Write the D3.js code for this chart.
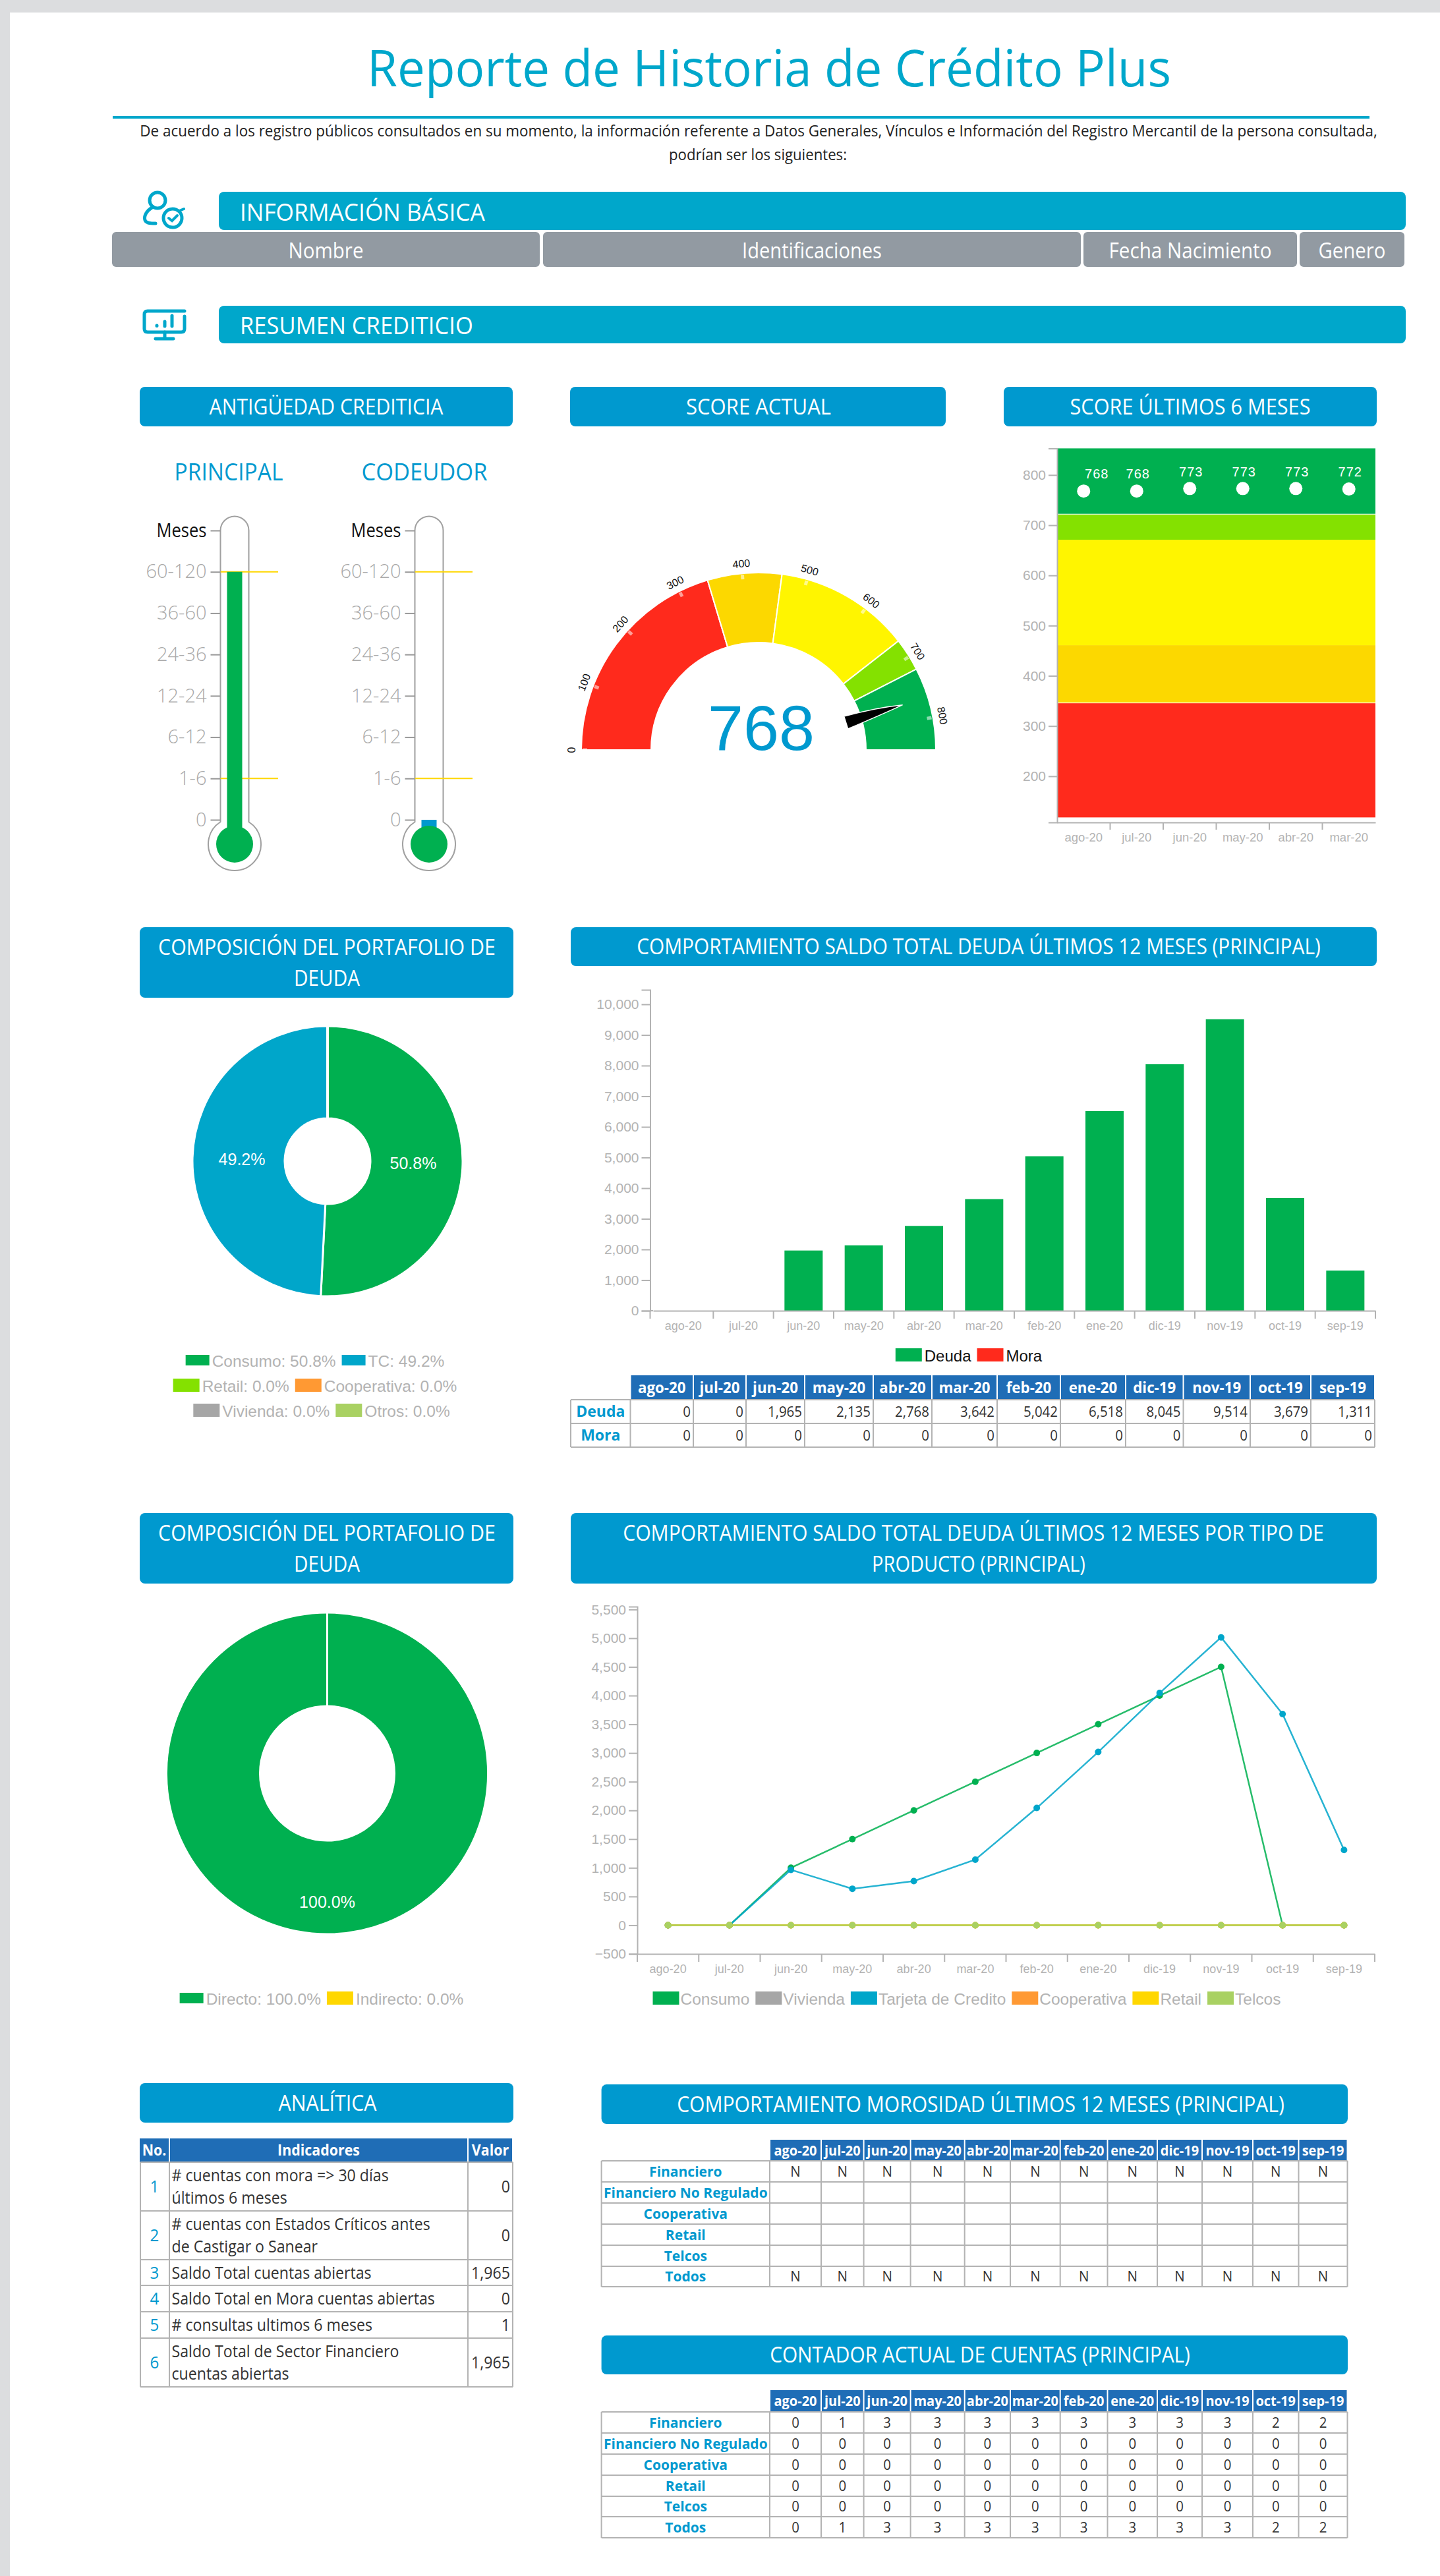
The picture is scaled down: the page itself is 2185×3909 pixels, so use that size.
<!DOCTYPE html>
<html>
<head>
<meta charset="utf-8">
<title>Reporte de Historia de Crédito Plus</title>
<script src="https://cdn.jsdelivr.net/npm/d3@7/dist/d3.min.js"></script>
<style>
  body { margin: 0; background: #fff; }
  svg { display: block; }
</style>
</head>
<body>
<svg id="page" width="2185" height="3909"></svg>
<script>
// Data
const months = ["ago-20", "jul-20", "jun-20", "may-20", "abr-20", "mar-20", "feb-20", "ene-20", "dic-19", "nov-19", "oct-19", "sep-19"];
const sixMonths = months.slice(0, 6);

const thermLabels = ["0", "1-6", "6-12", "12-24", "24-36", "36-60", "60-120", "Meses"];
const thermLimits = ["60-120", "1-6"];
const thermTitles = ["PRINCIPAL", "CODEUDOR"];
const thermValues = ["60-120", "0"];

const score = 768;
const scoreTicks = [0, 100, 200, 300, 400, 500, 600, 700, 800];
const scoreEdges = [0, 346, 461, 671, 722, 850];
const scoreColors = ["#ff2a1c", "#fcd800", "#fff500", "#84e100", "#00b050"];
const scoreHistory = [768, 768, 773, 773, 773, 772];

const portfolioNames = ["Consumo", "TC", "Retail", "Cooperativa", "Vivienda", "Otros"];
const portfolioValues = [50.8, 49.2, 0, 0, 0, 0];
const portfolioColors = ["#00b050", "#00a6ca", "#84e100", "#ff9933", "#a6a6a6", "#a9d162"];

const debtTotal = [0, 0, 1965, 2135, 2768, 3642, 5042, 6518, 8045, 9514, 3679, 1311];
const debtLate = [0, 0, 0, 0, 0, 0, 0, 0, 0, 0, 0, 0];

const directNames = ["Directo", "Indirecto"];
const directValues = [100, 0];
const directColors = ["#00b050", "#ffd700"];

const productNames = ["Consumo", "Vivienda", "Tarjeta de Credito", "Cooperativa", "Retail", "Telcos"];
const productColors = ["#00b050", "#a6a6a6", "#00a6ca", "#ff9933", "#ffd700", "#a9d162"];
const consumoSeries = [0, 0, 1000, 1500, 2000, 2500, 3000, 3500, 4000, 4500, 0, 0];
const viviendaSeries = [0, 0, 0, 0, 0, 0, 0, 0, 0, 0, 0, 0];
const tarjetaSeries = [0, 0, 965, 635, 768, 1142, 2042, 3018, 4045, 5014, 3679, 1311];
const cooperativaSeries = [0, 0, 0, 0, 0, 0, 0, 0, 0, 0, 0, 0];
const retailSeries = [0, 0, 0, 0, 0, 0, 0, 0, 0, 0, 0, 0];
const telcosSeries = [0, 0, 0, 0, 0, 0, 0, 0, 0, 0, 0, 0];

const indicators = [
  ["# cuentas con mora => 30 días", "últimos 6 meses"],
  ["# cuentas con Estados Críticos antes", "de Castigar o Sanear"],
  ["Saldo Total cuentas abiertas"],
  ["Saldo Total en Mora cuentas abiertas"],
  ["# consultas ultimos 6 meses"],
  ["Saldo Total de Sector Financiero", "cuentas abiertas"]
];
const indicatorValues = ["0", "0", "1,965", "0", "1", "1,965"];

const sectors = ["Financiero", "Financiero No Regulado", "Cooperativa", "Retail", "Telcos", "Todos"];
const lateFlags = [
  ["N", "N", "N", "N", "N", "N", "N", "N", "N", "N", "N", "N"],
  ["", "", "", "", "", "", "", "", "", "", "", ""],
  ["", "", "", "", "", "", "", "", "", "", "", ""],
  ["", "", "", "", "", "", "", "", "", "", "", ""],
  ["", "", "", "", "", "", "", "", "", "", "", ""],
  ["N", "N", "N", "N", "N", "N", "N", "N", "N", "N", "N", "N"]
];
const accountCounts = [
  [0, 1, 3, 3, 3, 3, 3, 3, 3, 3, 2, 2],
  [0, 0, 0, 0, 0, 0, 0, 0, 0, 0, 0, 0],
  [0, 0, 0, 0, 0, 0, 0, 0, 0, 0, 0, 0],
  [0, 0, 0, 0, 0, 0, 0, 0, 0, 0, 0, 0],
  [0, 0, 0, 0, 0, 0, 0, 0, 0, 0, 0, 0],
  [0, 1, 3, 3, 3, 3, 3, 3, 3, 3, 2, 2]
];

const blue = "#0099cf";
const teal = "#00a7cb";
const tableBlue = "#1f6db6";
const axisGrey = "#b3b3b3";
const sans = "'Open Sans', sans-serif";
const arial = "'Liberation Sans', Arial, sans-serif";

const svg = d3.select("#page");

// Open Sans runs wider than the report's font, so text gets narrowed with a scale
function label(g, x, y, str, o = {}) {
  const t = g.append("text")
    .attr("dy", o.dy || "0.36em")
    .attr("text-anchor", o.anchor || "middle")
    .attr("font-family", o.family || sans)
    .attr("font-size", o.size || 24)
    .attr("font-weight", o.weight || 400)
    .attr("fill", o.fill || "#333")
    .text(str);
  const natural = t.node().getComputedTextLength();
  let sx = 1;
  if (o.width) sx = o.width / natural;
  else if (o.family !== arial) sx = o.squeeze || 0.93;
  t.attr("transform", `translate(${x},${y}) scale(${sx},1)`);
  return t;
}

function box(g, x0, x1, y0, y1, fill, rx = 0) {
  return g.append("rect")
    .attr("x", x0).attr("y", y0)
    .attr("width", x1 - x0).attr("height", y1 - y0)
    .attr("rx", rx).attr("fill", fill);
}

function header(x0, x1, y0, y1, lines) {
  box(svg, x0, x1, y0, y1, blue, 8);
  const cy = (y0 + y1) / 2;
  lines.forEach((l, i) => {
    const y = lines.length === 1 ? cy : cy + (i - 0.5) * 47;
    label(svg, l[1], y, l[0], { size: 32, fill: "#fff", width: l[2] });
  });
}

function styleAxis(g, size) {
  g.selectAll(".domain, .tick line").attr("stroke", axisGrey).attr("stroke-width", 2);
  g.selectAll("text").attr("font-family", arial).attr("font-size", size).attr("fill", axisGrey);
}

// Centred row of swatch + text pairs
function legendRow(g, cx, y, items, o) {
  const row = g.append("g");
  const gap = o.gap === undefined ? 4 : o.gap;
  let x = 0;
  items.forEach((d) => {
    const sw = d.small ? 36 : 40;
    const sh = d.small ? 16 : 20;
    row.append("rect").attr("x", x).attr("y", y - sh / 2 - 1).attr("width", sw).attr("height", sh).attr("fill", d.color);
    x += sw + gap;
    const t = label(row, x, y, d.text, { anchor: "start", family: arial, size: o.size, fill: o.fill || axisGrey });
    x += t.node().getComputedTextLength() + 9;
  });
  row.attr("transform", `translate(${cx - (x - 9) / 2},0)`);
}

function drawTable(o) {
  const g = svg.append("g");
  const x0 = o.edges[0];
  const end = o.edges[o.edges.length - 1];
  o.months.forEach((m, i) => {
    box(g, o.edges[i + 1] + 1, o.edges[i + 2] - 1, o.headY, o.rows[0], tableBlue);
    label(g, (o.edges[i + 1] + o.edges[i + 2]) / 2, (o.headY + o.rows[0]) / 2, m, { size: o.headSize, weight: 700, fill: "#fff" });
  });
  o.rows.forEach((y) => {
    g.append("line").attr("x1", x0).attr("x2", end).attr("y1", y).attr("y2", y).attr("stroke", axisGrey).attr("stroke-width", 2);
  });
  o.edges.forEach((x) => {
    g.append("line").attr("x1", x).attr("x2", x).attr("y1", o.rows[0]).attr("y2", o.rows[o.rows.length - 1]).attr("stroke", axisGrey).attr("stroke-width", 2);
  });
  o.names.forEach((name, r) => {
    const cy = (o.rows[r] + o.rows[r + 1]) / 2;
    label(g, (x0 + o.edges[1]) / 2, cy, name, { size: o.nameSize, weight: 700, fill: blue, squeeze: 1 });
    o.cells[r].forEach((v, c) => {
      if (v === "") return;
      const a = o.edges[c + 1];
      const b = o.edges[c + 2];
      if (o.right) label(g, b - 4, cy, v, { anchor: "end", size: o.cellSize });
      else label(g, (a + b) / 2, cy, v, { size: o.cellSize });
    });
  });
}

function donut(cx, cy, r0, r1, names, values, colors, labelR) {
  const g = svg.append("g").attr("transform", `translate(${cx},${cy})`);
  const pie = d3.pie().sort(null).value((d) => d)(values);
  const arc = d3.arc().innerRadius(r0).outerRadius(r1);
  g.selectAll("path").data(pie).join("path")
    .attr("d", arc)
    .attr("fill", (d, i) => colors[i])
    .attr("stroke", "#fff")
    .attr("stroke-width", 3);
  const labelArc = d3.arc().innerRadius(labelR).outerRadius(labelR);
  pie.filter((d) => d.value > 0).forEach((d) => {
    const p = labelArc.centroid(d);
    label(g, p[0], p[1], d.value.toFixed(1) + "%", { family: arial, size: 25, fill: "#fff" });
  });
}

// Page frame
box(svg, 0, 2185, 0, 3909, "#dcdddf");
box(svg, 15, 2185, 19, 3909, "#fff");

// Title block
label(svg, 1167, 104, "Reporte de Historia de Crédito Plus", { size: 76, fill: teal, width: 1220 });
box(svg, 171, 2078, 176, 180, teal);
label(svg, 1151, 198, "De acuerdo a los registro públicos consultados en su momento, la información referente a Datos Generales, Vínculos e Información del Registro Mercantil de la persona consultada,", { size: 24, fill: "#222", width: 1878 });
label(svg, 1150, 234, "podrían ser los siguientes:", { size: 24, fill: "#222", width: 270 });

// Section bars
box(svg, 332, 2133, 291, 349, teal, 8);
label(svg, 364, 322, "INFORMACIÓN BÁSICA", { anchor: "start", size: 36, fill: "#fff", width: 372 });
box(svg, 332, 2133, 464, 521, teal, 8);
label(svg, 364, 494, "RESUMEN CREDITICIO", { anchor: "start", size: 36, fill: "#fff", width: 354 });

[[170, 819, "Nombre", 114], [824, 1640, "Identificaciones", 212], [1644, 1968, "Fecha Nacimiento", 247], [1972, 2131, "Genero", 102]].forEach((d) => {
  box(svg, d[0], d[1], 352, 405, "#929aa2", 6);
  label(svg, (d[0] + d[1]) / 2, 380, d[2], { size: 32, fill: "#fff", width: d[3] });
});

// Icons
const iconUser = svg.append("g").attr("fill", "none").attr("stroke", teal).attr("stroke-width", 5).attr("stroke-linecap", "round");
iconUser.append("circle").attr("cx", 239).attr("cy", 304).attr("r", 12);
iconUser.append("path").attr("d", "M232,314 C222,320 218,328 220,334 C221,338 226,339 236,339");
iconUser.append("circle").attr("cx", 262).attr("cy", 331).attr("r", 14);
iconUser.append("path").attr("d", "M256,331 L261,335 L269,327 M272,320 L279,317").attr("stroke-width", 4);
const iconScreen = svg.append("g").attr("fill", "none").attr("stroke", teal).attr("stroke-width", 5).attr("stroke-linecap", "round");
iconScreen.append("path").attr("d", "M280,472 H224 Q219,472 219,477 V499 Q219,504 224,504 H275 Q280,504 280,499 V480");
iconScreen.append("path").attr("d", "M250,504 V513 M236,514 H263");
iconScreen.append("path").attr("d", "M238,494 V494.5 M250,488 V495 M261,479 V495");

header(212, 778, 587, 647, [["ANTIGÜEDAD CREDITICIA", 495, 355]]);
header(865, 1435, 587, 647, [["SCORE ACTUAL", 1151, 220]]);
header(1523, 2089, 587, 647, [["SCORE ÚLTIMOS 6 MESES", 1806, 365]]);

// Thermometers
function thermometer(cx, value, fillColor, title, titleX, titleW) {
  const g = svg.append("g");
  label(g, titleX, 716, title, { size: 37, fill: blue, width: titleW });
  const y = d3.scalePoint().domain(thermLabels).range([1244, 805]);
  const hw = 21.5;
  const R = 40;
  const by = y("0") + 37;
  const a = Math.asin(hw / R);
  const outline = d3.path();
  outline.moveTo(cx - hw, y("Meses"));
  outline.arc(cx, y("Meses"), hw, Math.PI, 0);
  outline.lineTo(cx + hw, by - Math.cos(a) * R);
  outline.arc(cx, by, R, -Math.PI / 2 + a, -Math.PI / 2 - a);
  outline.closePath();
  g.append("path").attr("d", outline.toString()).attr("fill", "#fff").attr("stroke", "#a0a0a0").attr("stroke-width", 2);
  g.selectAll(".limit").data(thermLimits).join("line")
    .attr("x1", cx - hw).attr("x2", cx + 66)
    .attr("y1", (d) => y(d)).attr("y2", (d) => y(d))
    .attr("stroke", "#ffd700").attr("stroke-width", 2);
  g.append("rect")
    .attr("x", cx - 11.5).attr("width", 23)
    .attr("y", y(value)).attr("height", by - y(value))
    .attr("fill", fillColor);
  g.append("circle").attr("cx", cx).attr("cy", by).attr("r", 28).attr("fill", "#00b050");
  const axis = g.append("g")
    .attr("transform", `translate(${cx - hw},0)`)
    .call(d3.axisLeft(y).tickSize(15).tickPadding(6).tickSizeOuter(0));
  axis.select(".domain").remove();
  axis.selectAll(".tick line").attr("stroke", "#999").attr("stroke-width", 2);
  axis.selectAll("text")
    .attr("font-family", sans).attr("font-size", 29).attr("font-weight", 300)
    .attr("fill", (d) => (d === "Meses" ? "#111" : "#aaa"));
  axis.selectAll("text").filter((d) => d === "Meses")
    .attr("font-weight", 400).attr("textLength", 76).attr("lengthAdjust", "spacingAndGlyphs");
}
thermometer(356, thermValues[0], "#00b050", thermTitles[0], 347, 165);
thermometer(651, thermValues[1], blue, thermTitles[1], 644, 191);

// Gauge
const gauge = svg.append("g").attr("transform", "translate(1151,1138)");
const gaugeAngle = d3.scaleLinear().domain([0, 850]).range([-Math.PI / 2, Math.PI / 2]);
const gaugeArc = d3.arc().innerRadius(163).outerRadius(269);
gauge.selectAll(".seg").data(scoreColors).join("path")
  .attr("d", (d, i) => gaugeArc({ startAngle: gaugeAngle(scoreEdges[i]), endAngle: gaugeAngle(scoreEdges[i + 1]) }))
  .attr("fill", (d) => d)
  .attr("stroke", "#fff")
  .attr("stroke-width", 2);
scoreTicks.forEach((v) => {
  const deg = (gaugeAngle(v) * 180) / Math.PI;
  const g = gauge.append("g").attr("transform", `rotate(${deg})`);
  g.append("rect").attr("x", -2.5).attr("y", -267).attr("width", 5).attr("height", 7).attr("fill", "#fff").attr("opacity", 0.55);
  label(g, 0, -284, v, { family: arial, size: 16, fill: "#111" });
});
label(gauge, 4, -35, score, { family: arial, size: 97, fill: blue });
gauge.append("path")
  .attr("transform", `rotate(${(gaugeAngle(score) * 180) / Math.PI})`)
  .attr("d", "M-10,-139 L10,-139 Q4,-200 0,-229 Q-8,-190 -10,-139 Z")
  .attr("fill", "#000")
  .attr("stroke", "#fff")
  .attr("stroke-width", 1.5);

// Score bands
const scoreX = d3.scaleBand().domain(sixMonths).range([1604, 2087]);
const scoreY = d3.scaleLinear().domain([108, 853]).range([1248, 680.4]);
const bandFloor = 118;
const bandTop = 853;
const bandG = svg.append("g");
scoreColors.forEach((c, i) => {
  const lo = i === 0 ? bandFloor : scoreEdges[i];
  const hi = i === scoreColors.length - 1 ? bandTop : scoreEdges[i + 1];
  bandG.append("rect")
    .attr("x", 1605).attr("width", 482)
    .attr("y", scoreY(hi)).attr("height", scoreY(lo) - scoreY(hi))
    .attr("fill", c);
});
[scoreEdges[4], scoreEdges[1]].forEach((v) => {
  bandG.append("line").attr("x1", 1605).attr("x2", 2087).attr("y1", scoreY(v)).attr("y2", scoreY(v)).attr("stroke", "#fff");
});
const scoreAxisY = svg.append("g").attr("transform", "translate(1604,0)")
  .call(d3.axisLeft(scoreY).tickValues([200, 300, 400, 500, 600, 700, 800]).tickSize(13).tickPadding(4).tickFormat(d3.format("d")));
styleAxis(scoreAxisY, 21);
const scoreAxisX = svg.append("g").attr("transform", "translate(0,1248)")
  .call(d3.axisBottom(scoreX).tickSize(0).tickPadding(16));
styleAxis(scoreAxisX, 18.5);
d3.range(1, sixMonths.length).forEach((i) => {
  scoreAxisX.append("line").attr("x1", 1604 + i * scoreX.step()).attr("x2", 1604 + i * scoreX.step()).attr("y1", 0).attr("y2", 11).attr("stroke", axisGrey).attr("stroke-width", 2);
});
svg.append("g").selectAll("circle").data(scoreHistory).join("circle")
  .attr("cx", (d, i) => scoreX(sixMonths[i]) + scoreX.bandwidth() / 2)
  .attr("cy", (d) => scoreY(d))
  .attr("r", 10)
  .attr("fill", "#fff");
scoreHistory.forEach((d, i) => {
  const x = scoreX(sixMonths[i]) + scoreX.bandwidth() / 2 + (i === 0 ? 20 : 2);
  label(svg, x, scoreY(d) - 26, d, { family: arial, size: 20, fill: "#fff" }).attr("letter-spacing", 1);
});

// Portfolio donut 1
header(212, 779, 1407, 1514, [["COMPOSICIÓN DEL PORTAFOLIO DE", 496, 512], ["DEUDA", 496, 100]]);
donut(497, 1762, 65, 205, portfolioNames, portfolioValues, portfolioColors, 130);
const portfolioItems = portfolioNames.map((n, i) => ({
  text: `${n}: ${portfolioValues[i].toFixed(1)}%`,
  color: portfolioColors[i],
  small: portfolioValues[i] > 0
}));
legendRow(svg, 478, 2065, portfolioItems.slice(0, 2), { size: 24.5 });
legendRow(svg, 478, 2103, portfolioItems.slice(2, 4), { size: 24.5 });
legendRow(svg, 488, 2141, portfolioItems.slice(4, 6), { size: 24.5 });

// Debt bars, bands start a little right of the y axis
header(866, 2089, 1407, 1466, [["COMPORTAMIENTO SALDO TOTAL DEUDA ÚLTIMOS 12 MESES (PRINCIPAL)", 1485, 1038]]);
const barX = d3.scaleBand().domain(months).range([991, 2087]);
const barY = d3.scaleLinear().domain([0, 10473]).range([1989, 1502]);
const barWidth = barX.bandwidth() * 0.635;
svg.append("g").selectAll("rect").data(debtTotal).join("rect")
  .attr("x", (d, i) => barX(months[i]) + (barX.bandwidth() - barWidth) / 2)
  .attr("y", (d) => barY(d))
  .attr("width", barWidth)
  .attr("height", (d) => barY(0) - barY(d))
  .attr("fill", "#00b050");
const barAxisY = svg.append("g").attr("transform", "translate(986.5,0)")
  .call(d3.axisLeft(barY).tickValues(d3.range(0, 10001, 1000)).tickSize(13).tickPadding(4).tickFormat(d3.format(",")));
styleAxis(barAxisY, 21);
const barAxisX = svg.append("g").attr("transform", "translate(0,1989)")
  .call(d3.axisBottom(barX).tickSize(0).tickPadding(16));
styleAxis(barAxisX, 18);
barAxisX.append("line").attr("x1", 986.5).attr("x2", 991).attr("y1", 0).attr("y2", 0).attr("stroke", axisGrey).attr("stroke-width", 2);
barAxisX.append("line").attr("x1", 986.5).attr("x2", 986.5).attr("y1", 0).attr("y2", 12).attr("stroke", axisGrey).attr("stroke-width", 2);
d3.range(1, months.length + 1).forEach((i) => {
  barAxisX.append("line").attr("x1", 991 + i * barX.step()).attr("x2", 991 + i * barX.step()).attr("y1", 0).attr("y2", 12).attr("stroke", axisGrey).attr("stroke-width", 2);
});
legendRow(svg, 1470, 2057, [
  { text: "Deuda", color: "#00b050" },
  { text: "Mora", color: "#ff2a1c" }
], { size: 24, fill: "#111" });

drawTable({
  edges: [866, 956.5, 1052, 1132, 1221, 1325, 1414, 1513, 1609, 1708, 1795.5, 1897, 1989, 2086],
  rows: [2124, 2160, 2196],
  headY: 2087,
  months: months,
  names: ["Deuda", "Mora"],
  cells: [debtTotal.map(d3.format(",")), debtLate.map(d3.format(","))],
  headSize: 24,
  nameSize: 23,
  cellSize: 22,
  right: true
});

// Portfolio donut 2
header(212, 779, 2296, 2403, [["COMPOSICIÓN DEL PORTAFOLIO DE", 496, 512], ["DEUDA", 496, 100]]);
donut(496.5, 2691, 102, 244, directNames, directValues, directColors, 195);
legendRow(svg, 488, 3033, directNames.map((n, i) => ({
  text: `${n}: ${directValues[i].toFixed(1)}%`,
  color: directColors[i],
  small: directValues[i] > 0
})), { size: 24.5 });

// Debt by product lines
header(866, 2089, 2296, 2403, [["COMPORTAMIENTO SALDO TOTAL DEUDA ÚLTIMOS 12 MESES POR TIPO DE", 1477, 1064], ["PRODUCTO (PRINCIPAL)", 1485, 324]]);
const lineX = d3.scaleBand().domain(months).range([967, 2086]);
const lineY = d3.scaleLinear().domain([-500, 5550]).range([2965, 2438]);
const lineAxisY = svg.append("g").attr("transform", "translate(967,0)")
  .call(d3.axisLeft(lineY).tickValues(d3.range(-500, 5501, 500)).tickSize(13).tickPadding(4).tickFormat(d3.format(",")));
styleAxis(lineAxisY, 21);
const lineAxisX = svg.append("g").attr("transform", "translate(0,2965)")
  .call(d3.axisBottom(lineX).tickSize(0).tickPadding(16));
styleAxis(lineAxisX, 18);
d3.range(0, months.length + 1).forEach((i) => {
  lineAxisX.append("line").attr("x1", 967 + i * lineX.step()).attr("x2", 967 + i * lineX.step()).attr("y1", 0).attr("y2", 12).attr("stroke", axisGrey).attr("stroke-width", 2);
});
const line = d3.line()
  .x((d, i) => lineX(months[i]) + lineX.bandwidth() / 2)
  .y((d) => lineY(d));
[consumoSeries, viviendaSeries, tarjetaSeries, cooperativaSeries, retailSeries, telcosSeries].forEach((series, s) => {
  const g = svg.append("g");
  g.append("path").attr("d", line(series)).attr("fill", "none").attr("stroke", productColors[s]).attr("stroke-width", 2.5).attr("stroke-opacity", 0.85);
  g.selectAll("circle").data(series).join("circle")
    .attr("cx", (d, i) => lineX(months[i]) + lineX.bandwidth() / 2)
    .attr("cy", (d) => lineY(d))
    .attr("r", 5)
    .attr("fill", productColors[s]);
});
legendRow(svg, 1467, 3033, productNames.map((n, i) => ({ text: n, color: productColors[i] })), { size: 24.5, gap: 2 });

// Analytics
header(212, 779, 3161, 3221, [["ANALÍTICA", 497, 149]]);
const anaEdges = [213, 257, 710, 778];
const anaRows = [3281, 3355, 3429, 3468, 3508, 3548, 3622];
const ana = svg.append("g");
[["No.", 212, 256], ["Indicadores", 258, 709], ["Valor", 711, 777]].forEach((d) => {
  box(ana, d[1], d[2], 3245, 3281, tableBlue);
  label(ana, (d[1] + d[2]) / 2, 3263, d[0], { size: 23, weight: 700, fill: "#fff" });
});
anaRows.forEach((y) => {
  ana.append("line").attr("x1", 213).attr("x2", 778).attr("y1", y).attr("y2", y).attr("stroke", axisGrey).attr("stroke-width", 2);
});
anaEdges.forEach((x) => {
  ana.append("line").attr("x1", x).attr("x2", x).attr("y1", 3281).attr("y2", 3622).attr("stroke", axisGrey).attr("stroke-width", 2);
});
indicators.forEach((lines, r) => {
  const cy = (anaRows[r] + anaRows[r + 1]) / 2;
  label(ana, 234.5, cy, r + 1, { size: 26, fill: blue });
  lines.forEach((l, i) => {
    const y = cy + (i - (lines.length - 1) / 2) * 34;
    label(ana, 260.5, y, l, { anchor: "start", size: 26, fill: "#333", squeeze: 0.89 });
  });
  label(ana, 774, cy, indicatorValues[r], { anchor: "end", size: 26, squeeze: 0.89 });
});

// Delinquency + account tables
const smallEdges = [912.6, 1168, 1246, 1310.6, 1381.6, 1463.7, 1533, 1608.7, 1680.5, 1756, 1824, 1901, 1970.5, 2044.5];
header(912.6, 2045, 3163, 3223, [["COMPORTAMIENTO MOROSIDAD ÚLTIMOS 12 MESES (PRINCIPAL)", 1488, 922]]);
drawTable({
  edges: smallEdges,
  rows: [3279, 3311, 3343, 3375, 3407, 3439, 3470],
  headY: 3247,
  months: months,
  names: sectors,
  cells: lateFlags,
  headSize: 21.5,
  nameSize: 21,
  cellSize: 22
});
header(912.6, 2045, 3544, 3603, [["CONTADOR ACTUAL DE CUENTAS (PRINCIPAL)", 1487, 638]]);
drawTable({
  edges: smallEdges,
  rows: [3660, 3692, 3724, 3756, 3788, 3819, 3851],
  headY: 3627,
  months: months,
  names: sectors,
  cells: accountCounts,
  headSize: 21.5,
  nameSize: 21,
  cellSize: 22
});
</script>
</body>
</html>
